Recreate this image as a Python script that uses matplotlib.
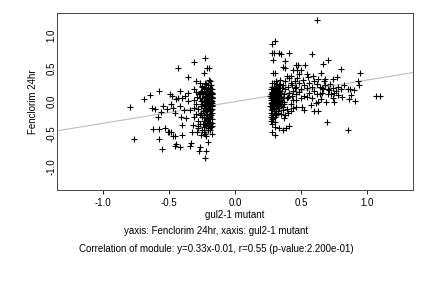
import matplotlib
matplotlib.use('agg')
import matplotlib.pyplot as plt

plt.rcParams['font.family'] = ['Liberation Sans', 'DejaVu Sans']

# left cluster, sparse part
left_x = [-0.795, -0.765, -0.689, -0.644, -0.623, -0.633, -0.61, -0.58, -0.575, -0.56,
          -0.58, -0.557, -0.585, -0.545, -0.53, -0.52, -0.512, -0.50, -0.497, -0.49,
          -0.485, -0.48, -0.474, -0.47, -0.457, -0.45, -0.446, -0.457, -0.457, -0.431,
          -0.43, -0.42, -0.416, -0.42, -0.41, -0.406, -0.40, -0.40, -0.39, -0.38,
          -0.37, -0.355, -0.36, -0.355, -0.34, -0.34, -0.335, -0.33, -0.323, -0.316,
          -0.31, -0.316, -0.31, -0.30, -0.29, -0.285, -0.277, -0.267, -0.267, -0.257,
          -0.252, -0.232, -0.227, -0.237, -0.212, -0.20, -0.197, -0.207, -0.22, -0.22]
left_y = [-0.09, -0.58, 0.03, 0.09, -0.43, -0.10, -0.12, -0.43, 0.16, -0.17,
          -0.58, -0.73, -0.25, -0.08, -0.41, -0.13, -0.47, -0.47, 0.10, -0.05,
          -0.47, 0.07, -0.54, -0.11, -0.19, 0.03, -0.65, -0.54, -0.68, 0.50,
          0.05, -0.08, -0.71, 0.16, -0.24, -0.37, -0.52, 0.05, -0.14, 0.08,
          -0.26, 0.36, 0.12, 0.00, -0.14, -0.68, -0.64, -0.47, -0.37, 0.02,
          0.60, 0.19, -0.25, 0.31, -0.48, -0.38, -0.76, -0.71, 0.28, -0.52,
          0.23, -0.87, 0.65, 0.43, 0.51, 0.50, 0.32, -0.62, -0.54, -0.77]

# left cluster, dense column near -0.2
col_x = [-0.265, -0.25, -0.24, -0.23, -0.22, -0.21, -0.20, -0.19, -0.18,
         -0.26, -0.245, -0.235, -0.225, -0.215, -0.205, -0.195, -0.185, -0.175,
         -0.27, -0.255, -0.24, -0.23, -0.22, -0.21, -0.20, -0.19, -0.18,
         -0.265, -0.25, -0.235, -0.225, -0.215, -0.205, -0.195, -0.185, -0.175,
         -0.26, -0.245, -0.235, -0.22, -0.21, -0.20, -0.19, -0.18, -0.175,
         -0.255, -0.24, -0.23, -0.22, -0.21, -0.20, -0.19, -0.185, -0.18,
         -0.27, -0.26, -0.25, -0.24, -0.23, -0.215, -0.205, -0.195, -0.185,
         -0.28, -0.29, -0.30, -0.28, -0.295, -0.275, -0.285, -0.30, -0.31,
         -0.245, -0.225, -0.205, -0.19, -0.20, -0.23, -0.215, -0.18, -0.175,
         -0.26, -0.24, -0.22, -0.20, -0.185, -0.25, -0.21, -0.195, -0.235,
         -0.23, -0.22, -0.21, -0.20, -0.19, -0.18, -0.225, -0.215, -0.205, -0.195, -0.185, -0.175,
         -0.23, -0.22, -0.21, -0.20, -0.19, -0.18, -0.225, -0.215, -0.205, -0.195, -0.185, -0.175,
         -0.23, -0.22, -0.21, -0.20, -0.19, -0.18, -0.225, -0.215, -0.205, -0.195, -0.185, -0.175,
         -0.23, -0.22, -0.21, -0.20, -0.19, -0.18, -0.225, -0.215, -0.205, -0.195, -0.185, -0.175]
col_y = [0.12, 0.05, -0.02, 0.08, -0.10, 0.15, 0.02, -0.05, 0.10,
         -0.08, -0.15, 0.18, 0.04, -0.20, -0.12, 0.20, -0.01, -0.18,
         -0.22, 0.22, -0.30, -0.06, 0.26, -0.28, 0.12, -0.35, 0.05,
         -0.35, -0.25, -0.40, -0.16, 0.00, -0.42, -0.25, 0.14, -0.08,
         0.00, 0.10, -0.10, 0.06, -0.05, -0.33, 0.08, -0.28, 0.18,
         -0.45, -0.48, -0.50, -0.38, -0.45, -0.22, -0.15, -0.40, -0.50,
         0.04, 0.16, -0.05, 0.20, 0.28, 0.10, 0.24, 0.30, 0.25,
         -0.12, 0.06, -0.20, -0.30, -0.05, 0.10, -0.42, 0.14, -0.10,
         -0.35, -0.26, -0.08, -0.45, 0.06, 0.12, -0.33, -0.12, 0.00,
         -0.18, 0.00, -0.02, -0.02, 0.02, 0.14, 0.20, -0.20, -0.22,
         0.08, 0.02, -0.04, 0.12, -0.08, 0.06, -0.12, 0.16, 0.00, -0.02, 0.10, 0.04,
         -0.14, 0.14, 0.04, -0.10, 0.18, -0.06, 0.00, -0.04, 0.08, 0.12, -0.14, -0.03,
         0.00, -0.06, 0.10, 0.06, -0.12, 0.12, 0.06, -0.16, -0.06, 0.02, 0.06, 0.10,
         -0.30, -0.36, -0.44, -0.26, -0.32, -0.38, 0.22, -0.24, 0.16, -0.28, -0.22, -0.33]

# right cluster, sparse part
right_x = [0.619, 0.276, 0.303, 0.278, 0.296, 0.329, 0.346, 0.405, 0.579, 0.288,
           0.379, 0.359, 0.379, 0.462, 0.477, 0.526, 0.435, 0.467, 0.498, 0.667,
           0.705, 0.803, 0.947, 0.288, 0.303, 0.389, 0.42, 0.485, 0.541, 0.649,
           0.682, 0.742, 0.768, 0.927, 0.935, 0.852, 0.867, 0.902, 0.877, 0.864,
           0.909, 1.068, 1.098, 0.808, 0.778, 0.75, 0.712, 0.728, 0.667, 0.687,
           0.649, 0.598, 0.629, 0.695, 0.856, 0.523, 0.505, 0.46, 0.371, 0.303,
           0.278, 0.27, 0.278, 0.303, 0.329, 0.364, 0.384, 0.405, 0.278, 0.303,
           0.27, 0.28, 0.36, 0.37, 0.46, 0.573, 0.611, 0.63, 0.75]
right_y = [1.23, 0.875, 0.91, 0.73, 0.74, 0.74, 0.71, 0.73, 0.72, 0.63,
           0.61, 0.52, 0.51, 0.545, 0.555, 0.555, 0.47, 0.47, 0.47, 0.565,
           0.625, 0.49, 0.43, 0.43, 0.43, 0.38, 0.38, 0.41, 0.41, 0.43,
           0.34, 0.33, 0.36, 0.305, 0.245, 0.18, 0.18, 0.17, 0.09, 0.025,
           0.005, 0.07, 0.07, 0.065, 0.09, 0.127, 0.17, 0.11, 0.18, -0.01,
           0.025, -0.15, -0.15, -0.32, -0.44, -0.14, -0.09, -0.09, -0.26, -0.24,
           -0.22, -0.30, -0.35, -0.39, -0.42, -0.44, -0.42, -0.38, -0.47, -0.52,
           -0.035, -0.09, -0.09, -0.05, 0.015, -0.06, -0.035, -0.01, -0.01]

# right cluster, dense part
mass_x = [0.27, 0.28, 0.29, 0.30, 0.31, 0.32, 0.33, 0.34, 0.35, 0.36,
          0.27, 0.28, 0.29, 0.30, 0.31, 0.32, 0.33, 0.34, 0.35, 0.36,
          0.27, 0.28, 0.29, 0.30, 0.31, 0.32, 0.33, 0.34, 0.35, 0.36,
          0.37, 0.38, 0.39, 0.40, 0.41, 0.42, 0.43, 0.44, 0.45, 0.46,
          0.37, 0.38, 0.39, 0.40, 0.41, 0.42, 0.43, 0.44, 0.45, 0.46,
          0.48, 0.50, 0.52, 0.54, 0.56, 0.58, 0.60, 0.62, 0.64, 0.66,
          0.48, 0.50, 0.52, 0.54, 0.56, 0.58, 0.60, 0.62, 0.64, 0.66,
          0.68, 0.70, 0.72, 0.74, 0.76, 0.78, 0.80, 0.82, 0.70, 0.74,
          0.265, 0.275, 0.285, 0.295, 0.305, 0.315, 0.325, 0.335, 0.345, 0.355,
          0.265, 0.275, 0.285, 0.295, 0.305, 0.315, 0.325, 0.335, 0.345, 0.355,
          0.40, 0.42, 0.38, 0.44, 0.47, 0.51, 0.55, 0.59, 0.63, 0.67,
          0.27, 0.28, 0.29, 0.30, 0.31, 0.32, 0.33, 0.275, 0.285, 0.295, 0.305, 0.315,
          0.27, 0.28, 0.29, 0.30, 0.31, 0.32, 0.33, 0.275, 0.285, 0.295, 0.305, 0.315,
          0.27, 0.28, 0.29, 0.30, 0.31, 0.32, 0.33, 0.275, 0.285, 0.295, 0.305, 0.315,
          0.27, 0.28, 0.29, 0.30, 0.31, 0.32, 0.33, 0.275, 0.285, 0.295, 0.305, 0.315]
mass_y = [0.05, 0.10, 0.00, 0.15, -0.05, 0.08, 0.20, -0.02, 0.12, 0.04,
          0.18, -0.12, 0.22, 0.02, 0.30, -0.15, 0.05, 0.16, -0.08, 0.25,
          -0.18, 0.28, -0.06, -0.20, 0.12, 0.22, -0.10, 0.32, 0.02, -0.14,
          0.10, 0.18, 0.05, 0.22, 0.12, 0.28, 0.08, 0.16, 0.20, 0.10,
          -0.02, 0.30, -0.12, 0.06, 0.35, -0.05, 0.24, 0.02, 0.30, 0.22,
          0.14, 0.18, 0.08, 0.20, 0.12, 0.22, 0.15, 0.26, 0.10, 0.20,
          0.28, 0.04, 0.24, 0.06, 0.28, 0.05, 0.30, 0.10, 0.22, 0.12,
          0.24, 0.18, 0.26, 0.20, 0.16, 0.22, 0.18, 0.25, 0.10, 0.05,
          0.08, -0.02, 0.14, -0.10, 0.08, 0.18, -0.04, 0.10, -0.20, 0.20,
          -0.08, 0.22, 0.04, 0.10, -0.12, 0.02, 0.14, 0.26, 0.06, -0.02,
          -0.18, -0.15, -0.22, -0.10, 0.35, 0.32, 0.36, 0.38, 0.34, 0.30,
          0.02, 0.06, 0.10, -0.02, 0.04, 0.12, 0.00, 0.14, -0.04, 0.06, 0.16, 0.08,
          -0.08, 0.12, -0.03, 0.08, 0.10, -0.06, 0.14, 0.04, 0.08, -0.06, 0.00, -0.02,
          0.10, -0.05, 0.16, 0.20, -0.10, 0.04, 0.08, -0.14, 0.18, 0.02, 0.22, -0.08,
          -0.25, -0.28, -0.15, -0.32, -0.22, -0.18, 0.24, -0.22, -0.26, 0.28, -0.16, 0.26]

slope, intercept = 0.33, -0.01
ticks = [-1.0, -0.5, 0.0, 0.5, 1.0]
xlab = 'gul2-1 mutant'
ylab = 'Fenclorim 24hr'
sub1 = 'yaxis: Fenclorim 24hr, xaxis: gul2-1 mutant'
sub2 = 'Correlation of module: y=0.33x-0.01, r=0.55 (p-value:2.200e-01)'

fig = plt.figure(figsize=(4.32, 2.88), dpi=100)
ax = fig.add_axes([0.1326, 0.340, 0.8234, 0.616])

ax.axline((0, intercept), slope=slope, color='#bdbdbd', lw=0.8, zorder=1)
for xs, ys in [(left_x, left_y), (col_x, col_y), (right_x, right_y), (mass_x, mass_y)]:
    ax.plot(xs, ys, '+', color='black', ms=3.8, mew=0.8, zorder=2)

ax.set_xlim(-1.348, 1.346)
ax.set_ylim(-1.36, 1.348)
ax.set_xticks(ticks)
ax.set_yticks(ticks)
ax.set_xticklabels(['%.1f' % t for t in ticks])
ax.set_yticklabels(['%.1f' % t for t in ticks], rotation=90, va='center')
ax.tick_params(axis='x', labelsize=7, length=3, width=0.6, pad=3, colors='black')
ax.tick_params(axis='y', labelsize=7, length=0, pad=0.5, colors='black')
for s in ax.spines.values():
    s.set_linewidth(0.7)
    s.set_color('#444444')

ax.set_xlabel(xlab, fontsize=7, labelpad=1)
ax.set_ylabel(ylab, fontsize=7, labelpad=6)
fig.text(0.5, 1 - 231 / 288, sub1, ha='center', va='center', fontsize=7)
fig.text(0.5, 1 - 249 / 288, sub2, ha='center', va='center', fontsize=7)

plt.savefig('out.png', dpi=100)
